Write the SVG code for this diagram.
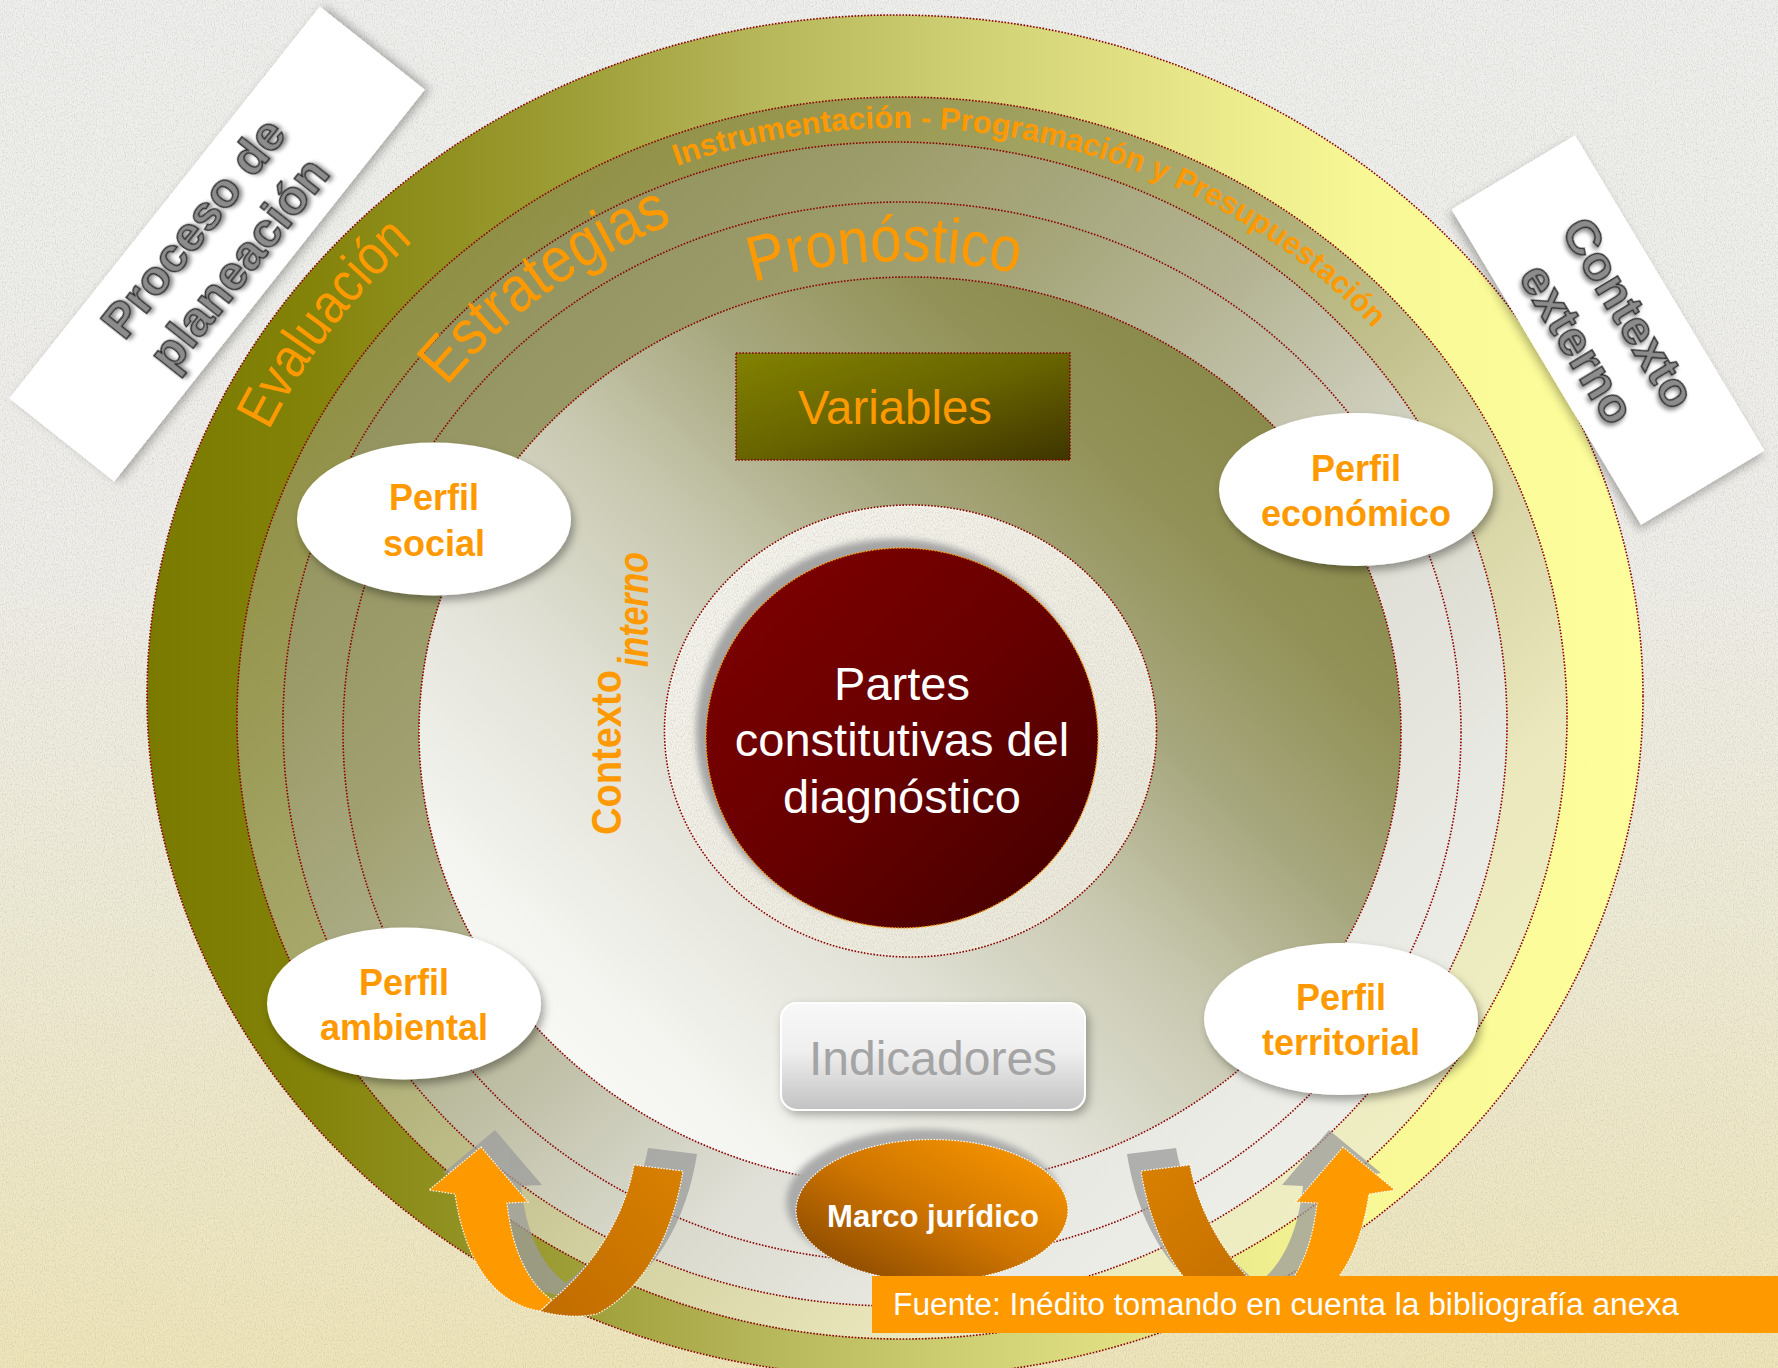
<svg xmlns="http://www.w3.org/2000/svg" xmlns:xlink="http://www.w3.org/1999/xlink" width="1778" height="1368" viewBox="0 0 1778 1368">
<defs>
<style>
.dot{stroke:#8b0000;stroke-width:1.6;stroke-dasharray:1.6 1.6}
.or{fill:#ff9900;font-family:"Liberation Sans",Arial,sans-serif}
.perf{fill:#ff9900;font-family:"Liberation Sans",Arial,sans-serif;font-weight:bold;font-size:36px;text-anchor:middle}
.box{fill:#8c8c8c;stroke:#2a2a2a;stroke-width:1.4;font-family:"Liberation Sans",Arial,sans-serif;font-weight:bold;font-size:49px;text-anchor:middle}
.wd{stroke:#ffffff;stroke-width:1.2;stroke-dasharray:1.5 1.5}
</style>
<linearGradient id="bg" x1="0" y1="0" x2="0" y2="1">
<stop offset="0" stop-color="#efefed"/><stop offset="0.4" stop-color="#efeeea"/><stop offset="0.7" stop-color="#eeead2"/><stop offset="1" stop-color="#efe5b8"/>
</linearGradient>
<linearGradient id="g0" x1="0" y1="0" x2="1" y2="0">
<stop offset="0" stop-color="#7a7a00"/><stop offset="0.1" stop-color="#828208"/><stop offset="0.25" stop-color="#98982e"/><stop offset="0.4" stop-color="#b4b458"/><stop offset="0.55" stop-color="#cfcf74"/><stop offset="0.7" stop-color="#e8e88a"/><stop offset="0.82" stop-color="#f8f896"/><stop offset="1" stop-color="#fefe9c"/>
</linearGradient>
<linearGradient id="g1" x1="0" y1="0" x2="1" y2="1">
<stop offset="0" stop-color="#808030"/><stop offset="0.25" stop-color="#9a9a55"/><stop offset="0.45" stop-color="#b0b078"/><stop offset="0.6" stop-color="#d2d0a0"/><stop offset="0.75" stop-color="#eae8bc"/><stop offset="1" stop-color="#f6f4cc"/>
</linearGradient>
<linearGradient id="g2" x1="0" y1="0" x2="1" y2="1">
<stop offset="0" stop-color="#868650"/><stop offset="0.25" stop-color="#9c9c6a"/><stop offset="0.45" stop-color="#b4b494"/><stop offset="0.6" stop-color="#d6d6c8"/><stop offset="0.75" stop-color="#e8e8e2"/><stop offset="1" stop-color="#f6f6f2"/>
</linearGradient>
<linearGradient id="g3" x1="0" y1="0" x2="1" y2="1">
<stop offset="0" stop-color="#8c8c58"/><stop offset="0.3" stop-color="#a0a070"/><stop offset="0.5" stop-color="#c0c0a8"/><stop offset="0.65" stop-color="#e0e0d8"/><stop offset="1" stop-color="#f6f6f2"/>
</linearGradient>
<linearGradient id="g4" x1="0" y1="1" x2="1" y2="0">
<stop offset="0" stop-color="#ffffff"/><stop offset="0.2" stop-color="#f4f4f0"/><stop offset="0.35" stop-color="#e2e2d8"/><stop offset="0.5" stop-color="#c8c8b0"/><stop offset="0.62" stop-color="#a8a880"/><stop offset="0.75" stop-color="#929258"/><stop offset="1" stop-color="#7e7e38"/>
</linearGradient>
<linearGradient id="gc" x1="0" y1="0" x2="1" y2="1">
<stop offset="0" stop-color="#f7f6f0"/><stop offset="1" stop-color="#ebe8d8"/>
</linearGradient>
<linearGradient id="gr" x1="0" y1="0" x2="1" y2="1">
<stop offset="0" stop-color="#800000"/><stop offset="0.5" stop-color="#680000"/><stop offset="1" stop-color="#400000"/>
</linearGradient>
<linearGradient id="gv" x1="0" y1="0" x2="1" y2="1">
<stop offset="0" stop-color="#828200"/><stop offset="0.5" stop-color="#686400"/><stop offset="1" stop-color="#3e3400"/>
</linearGradient>
<linearGradient id="gi" x1="0" y1="0" x2="0" y2="1">
<stop offset="0" stop-color="#f8f8f8"/><stop offset="0.45" stop-color="#efefef"/><stop offset="1" stop-color="#c2c2c2"/>
</linearGradient>
<linearGradient id="gm" x1="0" y1="1" x2="1" y2="0">
<stop offset="0" stop-color="#7a4000"/><stop offset="0.5" stop-color="#cf7500"/><stop offset="1" stop-color="#ff9c00"/>
</linearGradient>
<linearGradient id="gd" x1="0" y1="1" x2="1" y2="0">
<stop offset="0" stop-color="#c06c00"/><stop offset="1" stop-color="#d88000"/>
</linearGradient>
<filter id="tex" x="0" y="0" width="100%" height="100%">
<feTurbulence type="fractalNoise" baseFrequency="0.9 0.5" numOctaves="2" seed="4"/>
<feColorMatrix type="matrix" values="0 0 0 0 0.45  0 0 0 0 0.45  0 0 0 0 0.4  0.9 0 0 0 -0.38"/>
</filter>
<filter id="texin" x="0" y="0" width="100%" height="100%">
<feTurbulence type="fractalNoise" baseFrequency="0.9 0.5" numOctaves="2" seed="7"/>
<feColorMatrix type="matrix" values="0 0 0 0 0.45  0 0 0 0 0.45  0 0 0 0 0.4  0.9 0 0 0 -0.36"/>
<feComposite operator="in" in2="SourceGraphic"/>
</filter>
<filter id="sh" x="-20%" y="-20%" width="150%" height="160%">
<feDropShadow dx="3" dy="5" stdDeviation="4" flood-color="#000" flood-opacity="0.35"/>
</filter>
<filter id="shb" x="-20%" y="-30%" width="140%" height="170%">
<feDropShadow dx="3" dy="4" stdDeviation="5" flood-color="#000" flood-opacity="0.3"/>
</filter>
<filter id="tsh" x="-10%" y="-30%" width="130%" height="170%">
<feDropShadow dx="2" dy="3" stdDeviation="2" flood-color="#000" flood-opacity="0.45"/>
</filter>
<filter id="blur3" x="-10%" y="-10%" width="120%" height="120%"><feGaussianBlur stdDeviation="3"/></filter>
<path id="pEval" d="M214,591.9 A695,650 0 0,1 552.6,142.9"/>
<path id="pEstr" d="M364.9,518.3 A577,548 0 0,1 822.7,184.7"/>
<path id="pPron" d="M637,332.6 A500,471 0 0,1 1136.7,316.2"/>
<path id="pInst" d="M622.9,188.1 A632,594 0 0,1 1411.3,372.8"/>
<g id="uarrow">
<g transform="translate(14,-17)" fill="#9c9c9c" opacity="0.75">
<path d="M540,1311 L552,1300 C595,1265 625,1215 634,1165 L683,1171 C672,1240 640,1292 597,1314 C578,1318 556,1316 540,1311 Z"/>
<path d="M481,1147 L528,1202 L507,1203 C512,1250 528,1283 552,1300 L540,1311 C490,1303 464,1255 455,1194 L429,1190 Z"/>
</g>
<path class="wd" fill="url(#gd)" d="M540,1311 L552,1300 C595,1265 625,1215 634,1165 L683,1171 C672,1240 640,1292 597,1314 C578,1318 556,1316 540,1311 Z"/>
<path class="wd" fill="#ff9900" d="M481,1147 L528,1202 L507,1203 C512,1250 528,1283 552,1300 L540,1311 C490,1303 464,1255 455,1194 L429,1190 Z"/>
</g>
</defs>

<g id="background">
<rect x="0" y="0" width="1778" height="1368" fill="url(#bg)"/>
<rect x="0" y="0" width="1778" height="1368" filter="url(#tex)"/>
</g>

<g id="rings">
<ellipse id="ring-evaluacion" class="dot" cx="895" cy="696" rx="748" ry="681" fill="url(#g0)"/>
<ellipse id="ring-instrumentacion" class="dot" cx="902" cy="718" rx="665" ry="621" fill="url(#g1)"/>
<ellipse id="ring-estrategias" class="dot" cx="895" cy="724" rx="612" ry="582" fill="url(#g2)"/>
<ellipse id="ring-pronostico" class="dot" cx="902" cy="732" rx="559" ry="530" fill="url(#g3)"/>
<ellipse id="ring-variables" class="dot" cx="910" cy="732" rx="491" ry="455" fill="url(#g4)"/>
</g>

<g id="ring-labels">
<text class="or" font-size="56"><textPath href="#pEval" xlink:href="#pEval" startOffset="50%" text-anchor="middle" textLength="240" lengthAdjust="spacingAndGlyphs">Evaluación</textPath></text>
<text class="or" font-size="64"><textPath href="#pEstr" xlink:href="#pEstr" startOffset="50%" text-anchor="middle" textLength="282" lengthAdjust="spacingAndGlyphs">Estrategias</textPath></text>
<text class="or" font-size="64"><textPath href="#pPron" xlink:href="#pPron" startOffset="50%" text-anchor="middle" textLength="267" lengthAdjust="spacingAndGlyphs">Pronóstico</textPath></text>
<text class="or" font-size="31" font-weight="bold"><textPath href="#pInst" xlink:href="#pInst" startOffset="50%" text-anchor="middle" textLength="756" lengthAdjust="spacingAndGlyphs">Instrumentación - Programación y Presupuestación</textPath></text>
</g>

<g id="proceso-de-planeacion" transform="translate(217,244) rotate(-51.6)">
<rect x="-250" y="-67" width="500" height="134" fill="#ffffff" filter="url(#shb)"/>
<g filter="url(#tsh)">
<text class="box" x="-2" y="-12">Proceso de</text>
<text class="box" x="-2" y="46">planeación</text>
</g>
</g>

<g id="contexto-externo" transform="translate(1608,330) rotate(59)">
<rect x="-184" y="-72" width="368" height="144" fill="#ffffff" filter="url(#shb)"/>
<g filter="url(#tsh)">
<text class="box" x="-4" y="-10">Contexto</text>
<text class="box" x="-4" y="50">externo</text>
</g>
</g>

<g id="centro">
<ellipse cx="910.5" cy="731" rx="246" ry="226" fill="url(#gc)" class="dot"/>
<ellipse cx="910.5" cy="731" rx="244" ry="224" fill="#000" filter="url(#texin)"/>
<ellipse cx="894" cy="731" rx="198" ry="192" fill="#a4a4a4" filter="url(#blur3)"/>
<ellipse cx="902" cy="738" rx="196" ry="190" fill="url(#gr)" stroke="#ff9900" stroke-width="1.4" stroke-dasharray="1.5 1.5"/>
<g font-family="'Liberation Sans',Arial,sans-serif" font-size="47" fill="#ffffff" text-anchor="middle">
<text x="902" y="700">Partes</text>
<text x="902" y="756">constitutivas del</text>
<text x="902" y="813">diagnóstico</text>
</g>
</g>

<g id="variables">
<rect x="736" y="353" width="334" height="107" fill="url(#gv)" class="dot"/>
<text class="or" x="895" y="424" font-size="48" text-anchor="middle" textLength="194" lengthAdjust="spacingAndGlyphs">Variables</text>
</g>

<g id="contexto-interno" font-weight="bold">
<text class="or" font-size="42" transform="translate(621,835) rotate(-90)" textLength="165" lengthAdjust="spacingAndGlyphs">Contexto</text>
<text class="or" font-size="42" font-style="italic" transform="translate(648,667) rotate(-90)" textLength="115" lengthAdjust="spacingAndGlyphs">interno</text>
</g>

<g id="perfil-social">
<ellipse cx="434" cy="519" rx="137" ry="76.5" fill="#ffffff" filter="url(#sh)"/>
<text class="perf" x="434" y="510">Perfil</text>
<text class="perf" x="434" y="556">social</text>
</g>
<g id="perfil-economico">
<ellipse cx="1356" cy="489.5" rx="137" ry="76.5" fill="#ffffff" filter="url(#sh)"/>
<text class="perf" x="1356" y="481">Perfil</text>
<text class="perf" x="1356" y="526">económico</text>
</g>
<g id="perfil-ambiental">
<ellipse cx="404" cy="1003.5" rx="137" ry="76" fill="#ffffff" filter="url(#sh)"/>
<text class="perf" x="404" y="995">Perfil</text>
<text class="perf" x="404" y="1040">ambiental</text>
</g>
<g id="perfil-territorial">
<ellipse cx="1341" cy="1019" rx="137" ry="76" fill="#ffffff" filter="url(#sh)"/>
<text class="perf" x="1341" y="1010">Perfil</text>
<text class="perf" x="1341" y="1055">territorial</text>
</g>

<g id="indicadores">
<rect x="781" y="1003" width="304" height="107" rx="16" fill="url(#gi)" stroke="#ffffff" stroke-width="2" filter="url(#shb)"/>
<text x="933" y="1075" font-family="'Liberation Sans',Arial,sans-serif" font-size="48" fill="#a4a4a4" text-anchor="middle">Indicadores</text>
</g>

<g id="connectors">
<use href="#uarrow" xlink:href="#uarrow"/>
<use href="#uarrow" xlink:href="#uarrow" transform="translate(1824,0) scale(-1,1)"/>
</g>

<g id="marco-juridico">
<ellipse cx="924" cy="1202" rx="138" ry="73" fill="#aaaaaa" filter="url(#blur3)"/>
<ellipse cx="932" cy="1210.5" rx="136" ry="71" fill="url(#gm)" class="wd"/>
<text x="933" y="1227" font-family="'Liberation Sans',Arial,sans-serif" font-weight="bold" font-size="31" fill="#ffffff" text-anchor="middle">Marco jurídico</text>
</g>

<g id="fuente">
<rect x="872" y="1276" width="906" height="57" fill="#ff9900"/>
<text x="893" y="1315" font-family="'Liberation Sans',Arial,sans-serif" font-size="31" fill="#ffffff" textLength="786" lengthAdjust="spacingAndGlyphs">Fuente: Inédito tomando en cuenta la bibliografía anexa</text>
</g>
</svg>
